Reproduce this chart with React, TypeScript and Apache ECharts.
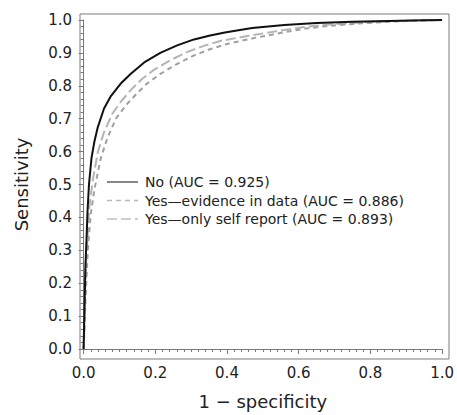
import React, { useEffect, useRef } from "react";
import * as echarts from "echarts";

const seriesNames = [
  "No (AUC = 0.925)",
  "Yes\u2014evidence in data (AUC = 0.886)",
  "Yes\u2014only self report (AUC = 0.893)",
];

// [1 - specificity, sensitivity]
const noCurve: [number, number][] = [
  [0, 0], [0.001, 0.05], [0.003, 0.15], [0.005, 0.25], [0.008, 0.33],
  [0.011, 0.42], [0.015, 0.5], [0.022, 0.58], [0.03, 0.63], [0.039, 0.672],
  [0.057, 0.731], [0.075, 0.767], [0.103, 0.806], [0.131, 0.836], [0.169, 0.871],
  [0.214, 0.9], [0.261, 0.923], [0.308, 0.941], [0.353, 0.953], [0.394, 0.962],
  [0.47, 0.976], [0.56, 0.985], [0.65, 0.991], [0.75, 0.995], [0.85, 0.997],
  [0.95, 0.999], [1.0, 1.0],
];

const evidenceCurve: [number, number][] = [
  [0, 0], [0.002, 0.05], [0.005, 0.14], [0.009, 0.24], [0.013, 0.32],
  [0.02, 0.41], [0.031, 0.49], [0.048, 0.58], [0.066, 0.64], [0.09, 0.7],
  [0.119, 0.742], [0.148, 0.776], [0.176, 0.806], [0.214, 0.836], [0.26, 0.866],
  [0.305, 0.891], [0.352, 0.911], [0.4, 0.927], [0.47, 0.944], [0.56, 0.963],
  [0.62, 0.974], [0.68, 0.982], [0.79, 0.991], [0.9, 0.997], [1.0, 1.0],
];

const selfReportCurve: [number, number][] = [
  [0, 0], [0.002, 0.06], [0.004, 0.16], [0.007, 0.26], [0.011, 0.34],
  [0.016, 0.43], [0.025, 0.51], [0.04, 0.6], [0.056, 0.656], [0.08, 0.715],
  [0.107, 0.756], [0.134, 0.79], [0.162, 0.82], [0.198, 0.85], [0.244, 0.879],
  [0.29, 0.903], [0.337, 0.922], [0.384, 0.937], [0.46, 0.952], [0.55, 0.968],
  [0.61, 0.978], [0.67, 0.985], [0.78, 0.993], [0.9, 0.998], [1.0, 1.0],
];

const FONT = "'DejaVu Sans', Verdana, sans-serif";

const lineColors = ["#111111", "#a0a0a0", "#b4b4b4"];
const lineDashes: (number[] | "solid")[] = ["solid", [5, 4], [10, 4]];

export default function App() {
  const ref = useRef<HTMLDivElement>(null);

  useEffect(() => {
    document.body.style.margin = "0";
    if (!ref.current) return;
    const chart = echarts.init(ref.current, undefined, { renderer: "svg" });
    const axisColor = "#7a7a7a";

    const legendX = 107;
    const legendY = 182;
    const legendRow = 18.5;
    const legendGraphics: any[] = [];
    seriesNames.forEach((name, i) => {
      const y = legendY + i * legendRow;
      legendGraphics.push({
        type: "line",
        shape: { x1: legendX, y1: y, x2: legendX + 31, y2: y },
        style: {
          stroke: i === 0 ? "#111" : i === 1 ? "#b8b8b8" : "#c0c0c0",
          lineWidth: i === 0 ? 1 : 1.5,
          lineDash: lineDashes[i] === "solid" ? null : (lineDashes[i] as number[]),
        },
        silent: true,
        z: 20,
      });
      legendGraphics.push({
        type: "text",
        x: legendX + 38,
        y,
        style: {
          text: name,
          fontFamily: FONT,
          fontSize: 14,
          fill: "#222",
          verticalAlign: "middle",
          align: "left",
        },
        silent: true,
        z: 20,
      });
    });

    chart.setOption({
      animation: false,
      backgroundColor: "#ffffff",
      grid: { left: 83.6, right: 12.3, top: 20, bottom: 61, containLabel: false },
      xAxis: {
        type: "value",
        min: 0,
        max: 1,
        interval: 0.2,
        offset: 5,
        name: "1 \u2212 specificity",
        nameLocation: "middle",
        nameGap: 38,
        nameTextStyle: { fontFamily: FONT, fontSize: 18, color: "#222" },
        axisLine: { show: true, lineStyle: { color: axisColor, width: 1 } },
        axisTick: { show: true, length: 5, lineStyle: { color: axisColor } },
        minorTick: { show: true, splitNumber: 10, length: 3, lineStyle: { color: axisColor } },
        splitLine: { show: false },
        minorSplitLine: { show: false },
        axisLabel: {
          fontFamily: FONT,
          fontSize: 15,
          color: "#222",
          margin: 11,
          formatter: (v: number) => v.toFixed(1),
        },
      },
      yAxis: {
        type: "value",
        min: 0,
        max: 1,
        interval: 0.1,
        offset: 3.6,
        name: "Sensitivity",
        nameLocation: "middle",
        nameGap: 50,
        nameTextStyle: { fontFamily: FONT, fontSize: 18, color: "#222" },
        axisLine: { show: true, lineStyle: { color: axisColor, width: 1 } },
        axisTick: { show: true, length: 5, lineStyle: { color: axisColor } },
        minorTick: { show: true, splitNumber: 5, length: 3, lineStyle: { color: axisColor } },
        splitLine: { show: false },
        minorSplitLine: { show: false },
        axisLabel: {
          fontFamily: FONT,
          fontSize: 15,
          color: "#222",
          margin: 8,
          formatter: (v: number) => v.toFixed(1),
        },
      },
      graphic: [
        {
          type: "rect",
          shape: { x: 80, y: 14, width: 369, height: 345 },
          style: { fill: "none", stroke: axisColor, lineWidth: 1 },
          z: 10,
          silent: true,
        },
        ...legendGraphics,
      ],
      series: [
        {
          name: seriesNames[2],
          type: "line",
          data: selfReportCurve,
          symbol: "none",
          lineStyle: { color: lineColors[2], width: 2, type: lineDashes[2] },
          z: 2,
        },
        {
          name: seriesNames[1],
          type: "line",
          data: evidenceCurve,
          symbol: "none",
          lineStyle: { color: lineColors[1], width: 2, type: lineDashes[1] },
          z: 3,
        },
        {
          name: seriesNames[0],
          type: "line",
          data: noCurve,
          symbol: "none",
          lineStyle: { color: lineColors[0], width: 2, type: lineDashes[0] },
          z: 4,
        },
      ],
    });
    return () => chart.dispose();
  }, []);

  return (
    <div
      ref={ref}
      style={{ position: "absolute", left: 0, top: 0, width: 457, height: 415 }}
    />
  );
}
